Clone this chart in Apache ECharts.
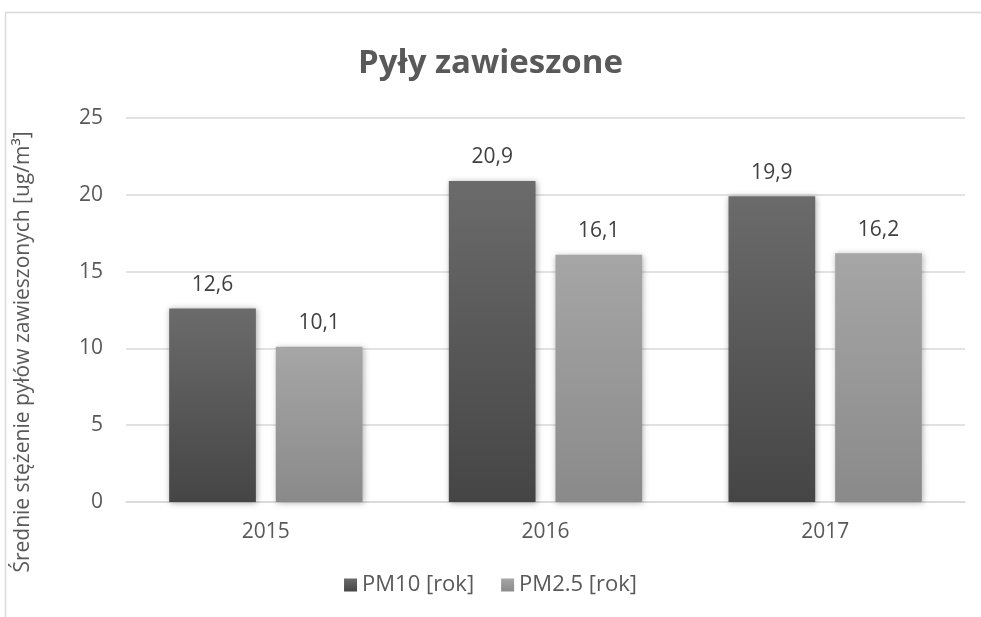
<!DOCTYPE html>
<html>
<head>
<meta charset="utf-8">
<script src="https://cdn.jsdelivr.net/npm/echarts@6/dist/echarts.min.js"></script>
<style>
  html, body { margin: 0; padding: 0; background: #fff; overflow: hidden; }
  #chart { width: 981px; height: 617px; }
</style>
</head>
<body>
<div id="chart"></div>
<script>
// dane
var years = ['2015', '2016', '2017'];
var pm10 = [12.6, 20.9, 19.9];
var pm25 = [10.1, 16.1, 16.2];
var seriesNames = ['PM10 [rok]', 'PM2.5 [rok]'];

var chart = echarts.init(document.getElementById('chart'));

function grad(top, bottom) {
  return new echarts.graphic.LinearGradient(0, 0, 0, 1, [
    {offset: 0, color: top},
    {offset: 1, color: bottom}
  ]);
}

var font = '"Open Sans", sans-serif';
var labelCfg = {
  show: true,
  position: 'top',
  distance: 13,
  color: '#404040',
  fontSize: 21,
  fontFamily: font,
  formatter: function (p) { return String(p.value).replace('.', ','); }
};

chart.setOption({
  backgroundColor: '#fff',
  textStyle: {fontFamily: font},
  graphic: [
    // ramka wykresu - lewa krawędź
    {
      type: 'line',
      shape: {x1: 5.5, y1: 12, x2: 5.5, y2: 640},
      style: {stroke: '#d9d9d9', lineWidth: 1.5},
      silent: true
    },
    // ramka wykresu - górna krawędź
    {
      type: 'line',
      shape: {x1: 5, y1: 12.5, x2: 990, y2: 12.5},
      style: {stroke: '#d9d9d9', lineWidth: 1.5},
      silent: true
    }
  ],
  title: {
    text: 'Pyły zawieszone',
    left: 'center',
    top: 42,
    textStyle: {fontSize: 33, fontWeight: 'bold', color: '#595959', fontFamily: font}
  },
  legend: {
    data: seriesNames,
    top: 569,
    left: 'center',
    itemWidth: 13,
    itemHeight: 13,
    itemGap: 27,
    icon: 'rect',
    textStyle: {fontSize: 22, color: '#595959', fontFamily: font}
  },
  grid: {left: 126, right: 16, top: 118, bottom: 115},
  xAxis: {
    type: 'category',
    data: years,
    axisLine: {lineStyle: {color: '#d9d9d9', width: 1.5}},
    axisTick: {show: false},
    axisLabel: {fontSize: 21, color: '#595959', margin: 20}
  },
  yAxis: {
    type: 'value',
    min: 0,
    max: 25,
    interval: 5,
    name: 'Średnie stężenie pyłów zawieszonych [ug/m³]',
    nameLocation: 'middle',
    nameGap: 92,
    nameTextStyle: {fontSize: 21, color: '#595959', padding: [0, 0, 0, -84]},
    axisLine: {show: false},
    axisTick: {show: false},
    axisLabel: {fontSize: 21, color: '#595959', margin: 23},
    splitLine: {lineStyle: {color: '#d9d9d9', width: 1.5}}
  },
  series: [
    {
      name: seriesNames[0],
      type: 'bar',
      data: pm10,
      barWidth: '31%',
      barGap: '23%',
      itemStyle: {
        color: grad('#6b6b6b', '#454545'),
        shadowColor: 'rgba(0,0,0,0.35)',
        shadowBlur: 6,
        shadowOffsetX: 1,
        shadowOffsetY: 1
      },
      label: labelCfg
    },
    {
      name: seriesNames[1],
      type: 'bar',
      data: pm25,
      barWidth: '31%',
      itemStyle: {
        color: grad('#a6a6a6', '#8a8a8a'),
        shadowColor: 'rgba(0,0,0,0.3)',
        shadowBlur: 6,
        shadowOffsetX: 1,
        shadowOffsetY: 1
      },
      label: labelCfg
    }
  ]
});
</script>
</body>
</html>
